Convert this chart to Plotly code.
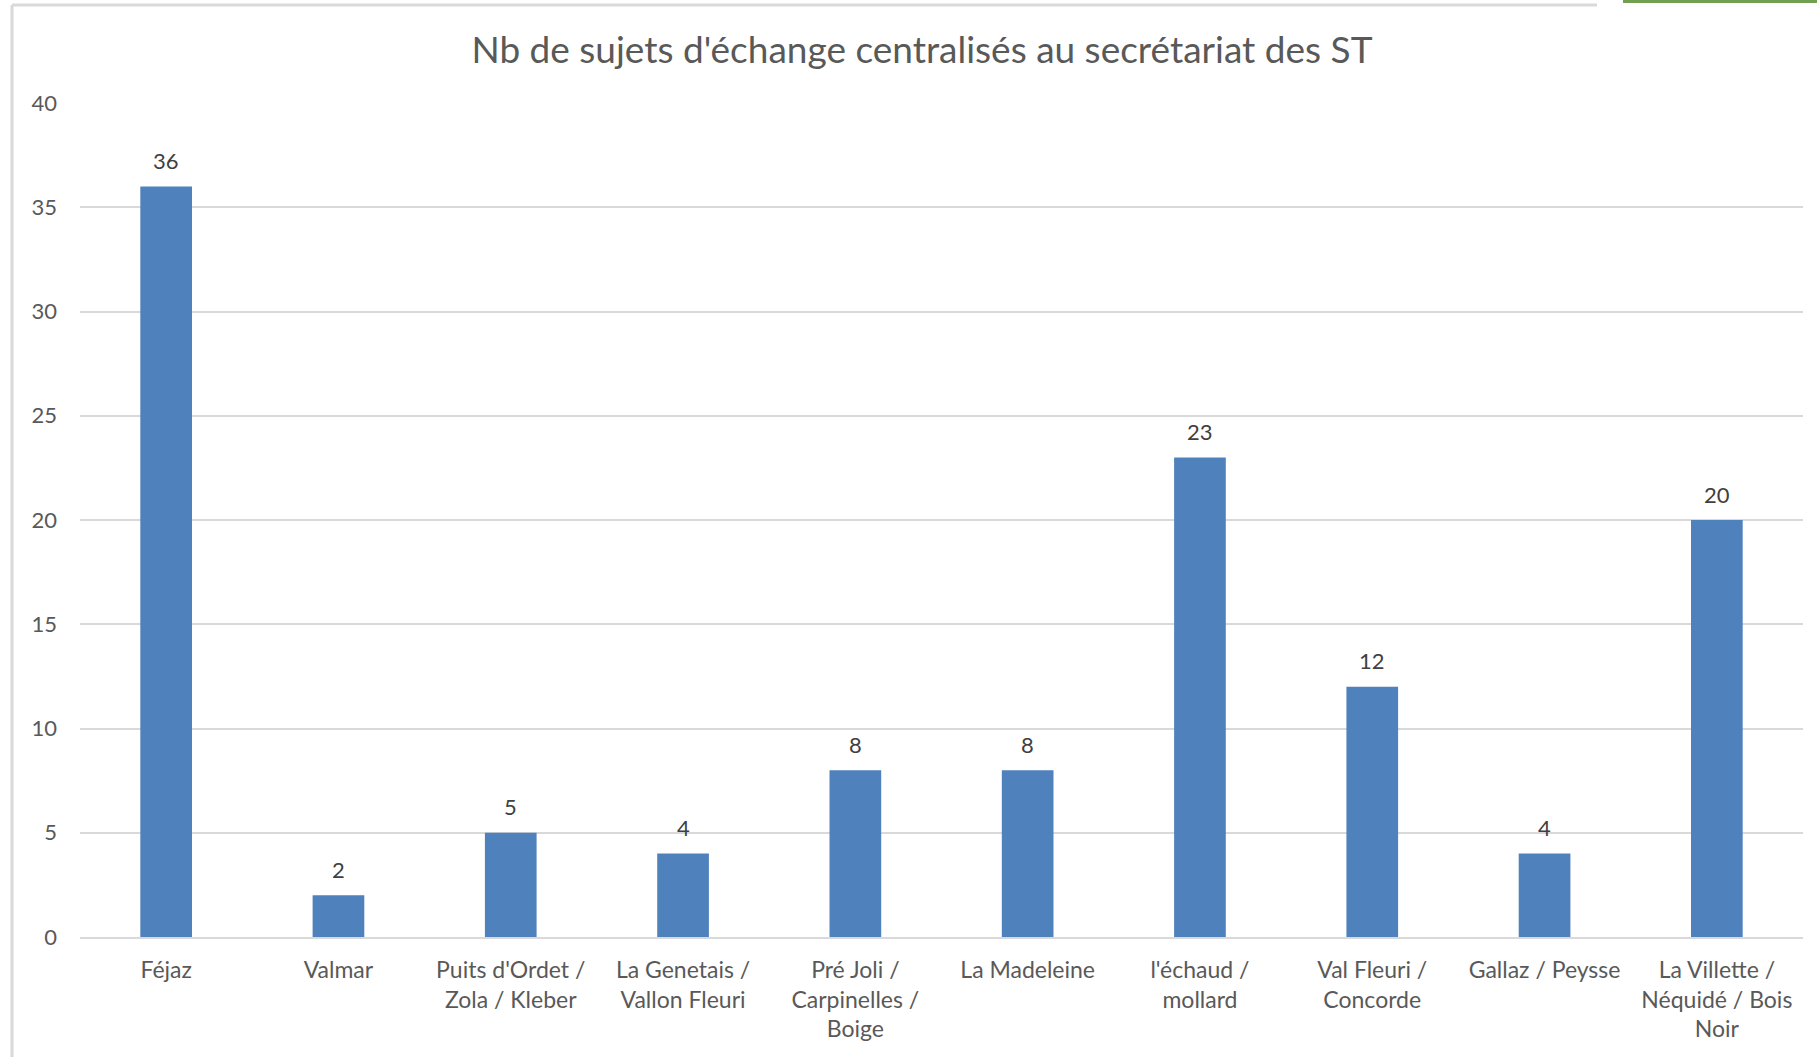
import plotly.graph_objects as go

categories = [
    "Féjaz", "Valmar", "Puits d'Ordet /<br>Zola / Kleber", "La Genetais /<br>Vallon Fleuri",
    "Pré Joli /<br>Carpinelles /<br>Boige", "La Madeleine", "l'échaud /<br>mollard",
    "Val Fleuri /<br>Concorde", "Gallaz / Peysse", "La Villette /<br>Néquidé / Bois<br>Noir",
]
values = [36, 2, 5, 4, 8, 8, 23, 12, 4, 20]
title = "Nb de sujets d'échange centralisés au secrétariat des ST"
y_ticks = [0, 5, 10, 15, 20, 25, 30, 35, 40]

W, H = 1817, 1057
L, R = 80, 1803
T, B = 103, 937.5

def px(x):
    return (x - L) / (R - L)

def py(y):
    return (B - y) / (B - T)

FONT = "Lato, 'Open Sans', sans-serif"

fig = go.Figure()
fig.add_trace(go.Bar(
    x=categories, y=values, marker=dict(color="#4F81BD", line=dict(width=0)),
    hoverinfo="skip",
))
for c, v in zip(categories, values):
    fig.add_annotation(x=c, y=v, text=str(v), showarrow=False, yanchor="middle", yshift=26,
                       font=dict(family=FONT, size=22, color="#404040"))

fig.update_layout(
    width=W, height=H,
    margin=dict(l=L, r=W - R, t=T, b=H - B),
    paper_bgcolor="white", plot_bgcolor="white",
    bargap=0.7, showlegend=False,
    title=dict(text=title, xref="container", x=922 / W, xanchor="center",
               yref="container", y=1 - 50 / H, yanchor="middle",
               font=dict(family=FONT, size=37, color="#595959")),
    font=dict(family=FONT, color="#595959"),
)
fig.update_xaxes(showgrid=False, showline=True, linecolor="#d9d9d9", linewidth=2,
                 ticks="", ticklabelstandoff=11,
                 tickfont=dict(family=FONT, size=23, color="#595959"), tickangle=0)
fig.update_yaxes(range=[0, 40], tickvals=y_ticks, showgrid=True, gridcolor="#d9d9d9", gridwidth=2,
                 zeroline=False, showline=False, ticks="", ticklabelstandoff=22,
                 tickfont=dict(family=FONT, size=22, color="#595959"))

# chart border (left and top) and UI fragment
fig.add_shape(type="line", xref="paper", yref="paper", x0=px(12), x1=px(12), y0=py(5), y1=py(H + 5),
              line=dict(color="#d9d9d9", width=3))
fig.add_shape(type="line", xref="paper", yref="paper", x0=px(12), x1=px(1597), y0=py(5), y1=py(5),
              line=dict(color="#d9d9d9", width=3))
fig.add_shape(type="rect", xref="paper", yref="paper", x0=px(1623), x1=px(W + 5), y0=py(-5), y1=py(3),
              line=dict(width=0), fillcolor="#70A050")

fig.write_html("out.html", config={"displayModeBar": False},
               post_script="document.body.style.margin='0';")
